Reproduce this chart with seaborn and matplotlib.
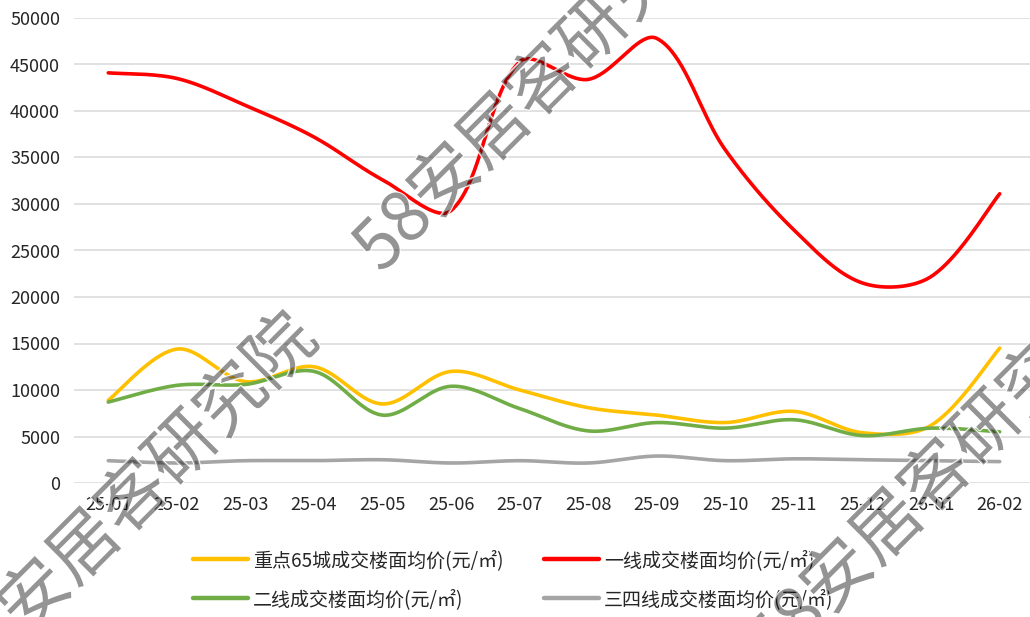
import numpy as np
import pandas as pd
import matplotlib
matplotlib.use("Agg")
import matplotlib.pyplot as plt
import matplotlib.patheffects as pe
from matplotlib.lines import Line2D
import seaborn as sns

# Monthly average land transaction prices (yuan per square metre)
months = ["25-01", "25-02", "25-03", "25-04", "25-05", "25-06", "25-07",
          "25-08", "25-09", "25-10", "25-11", "25-12", "26-01", "26-02"]
key65 = [8900, 14400, 10900, 12500, 8500, 12000, 10000, 8100, 7300, 6500, 7700, 5400, 6200, 14500]
tier1 = [44100, 43500, 40600, 37200, 32600, 29300, 45300, 43400, 47800, 35800, 27200, 21500, 22200, 31100]
tier2 = [8700, 10500, 10600, 12000, 7300, 10400, 8000, 5600, 6500, 5900, 6800, 5100, 5900, 5500]
tier34 = [2400, 2150, 2400, 2400, 2500, 2150, 2400, 2150, 2900, 2400, 2600, 2500, 2400, 2300]

series_names = ["重点65城成交楼面均价(元/㎡)", "一线成交楼面均价(元/㎡)",
                "二线成交楼面均价(元/㎡)", "三四线成交楼面均价(元/㎡)"]
series_values = [key65, tier1, tier2, tier34]
series_colors = ["#FFC000", "#FF0000", "#70AD47", "#A5A5A5"]

yticks = [0, 5000, 10000, 15000, 20000, 25000, 30000, 35000, 40000, 45000, 50000]

W, H = 1030, 617
left_px, right_px, top_px, bottom_px = 74, 1034, 18, 483
x_scale = (right_px - left_px) / len(months)      # pixels per category
y_scale = (bottom_px - top_px) / 50000.0           # pixels per yuan


def smooth_curve(values, samples=40):
    """Cubic Bezier smoothing through every point; tangents are split in
    proportion to the on-screen lengths of the neighbouring segments."""
    x = np.arange(len(values), dtype=float)
    y = np.asarray(values, float)
    pts = np.column_stack([x, y])
    scr = np.column_stack([x * x_scale, y * y_scale])
    n = len(pts)
    seglen = np.hypot(*np.diff(scr, axis=0).T)
    out = []
    t = np.linspace(0, 1, samples)[:, None]
    for i in range(n - 1):
        p0 = pts[max(i - 1, 0)]
        p1 = pts[i]
        p2 = pts[i + 1]
        p3 = pts[min(i + 2, n - 1)]
        d_cur = seglen[i]
        f1 = (1 / 3.0) * d_cur / (seglen[i - 1] + d_cur) if i > 0 else 1 / 6.0
        f2 = (1 / 3.0) * d_cur / (d_cur + seglen[i + 1]) if i + 1 < n - 1 else 1 / 6.0
        c1 = p1 + (p2 - p0) * f1
        c2 = p2 - (p3 - p1) * f2
        seg = ((1 - t) ** 3) * p1 + 3 * ((1 - t) ** 2) * t * c1 + 3 * (1 - t) * t ** 2 * c2 + t ** 3 * p2
        out.append(seg if i == 0 else seg[1:])
    arr = np.vstack(out)
    return arr[:, 0], arr[:, 1]


class WhiteOutline(pe.AbstractPathEffect):
    """Draws only a white outline around the glyph paths (no fill)."""

    def __init__(self, linewidth=1.6, alpha=0.9):
        super().__init__()
        self.lw = linewidth
        self.alpha = alpha

    def draw_path(self, renderer, gc, tpath, affine, rgbFace=None):
        gc0 = renderer.new_gc()
        gc0.copy_properties(gc)
        gc0.set_foreground("white")
        gc0.set_alpha(self.alpha)
        gc0.set_linewidth(self.lw)
        renderer.draw_path(gc0, tpath, affine, None)
        gc0.restore()


sns.set_theme(style="white")
plt.rcParams["font.family"] = ["Noto Sans CJK SC", "DejaVu Sans"]

fig = plt.figure(figsize=(W / 100, H / 100), dpi=100)
ax = fig.add_axes([left_px / W, 1 - bottom_px / H, (right_px - left_px) / W, (bottom_px - top_px) / H])

frames = []
for name, vals in zip(series_names, series_values):
    sx, sy = smooth_curve(vals)
    frames.append(pd.DataFrame({"x": sx, "y": sy, "series": name}))
df = pd.concat(frames, ignore_index=True)

for name, color in zip(series_names, series_colors):
    sns.lineplot(data=df[df["series"] == name], x="x", y="y", color=color,
                 linewidth=2.6, sort=False, estimator=None, ax=ax, legend=False,
                 solid_capstyle="round")

ax.set_xlim(-0.5, len(months) - 0.5)
ax.set_ylim(0, 50000)
ax.set_xticks(range(len(months)))
ax.set_xticklabels(months)
ax.set_yticks(yticks)
ax.set_yticklabels([str(v) for v in yticks])
ax.set_xlabel("")
ax.set_ylabel("")
ax.tick_params(axis="both", length=0, labelsize=13, colors="#262626")
ax.tick_params(axis="y", pad=10)
ax.tick_params(axis="x", pad=9)
ax.grid(axis="y", color="#D9D9D9", linewidth=1.1)
ax.grid(axis="x", visible=False)
ax.set_axisbelow(True)
for s in ax.spines.values():
    s.set_visible(False)

# Legend: two rows, two columns
order = [0, 2, 1, 3]
handles = [Line2D([0], [0], color=series_colors[i], linewidth=3.2) for i in order]
labels = [series_names[i] for i in order]
fig.legend(handles, labels, ncol=2, loc="center", bbox_to_anchor=(513 / W, 1 - 580 / H),
           frameon=False, fontsize=13.7, handlelength=2.9, handletextpad=0.27,
           columnspacing=2.1, labelspacing=0.93, labelcolor="#262626")

# Watermarks
for cx, cy in [(542, 86), (132, 502), (935, 482)]:
    fig.text(cx / W, 1 - cy / H, "58安居客研究院", rotation=45, ha="center", va="center",
             rotation_mode="anchor", fontsize=50, color="black", alpha=0.42, zorder=10,
             fontweight="light",
             path_effects=[WhiteOutline(linewidth=1.6, alpha=0.9), pe.Normal()])

fig.savefig("out.png", dpi=100)
